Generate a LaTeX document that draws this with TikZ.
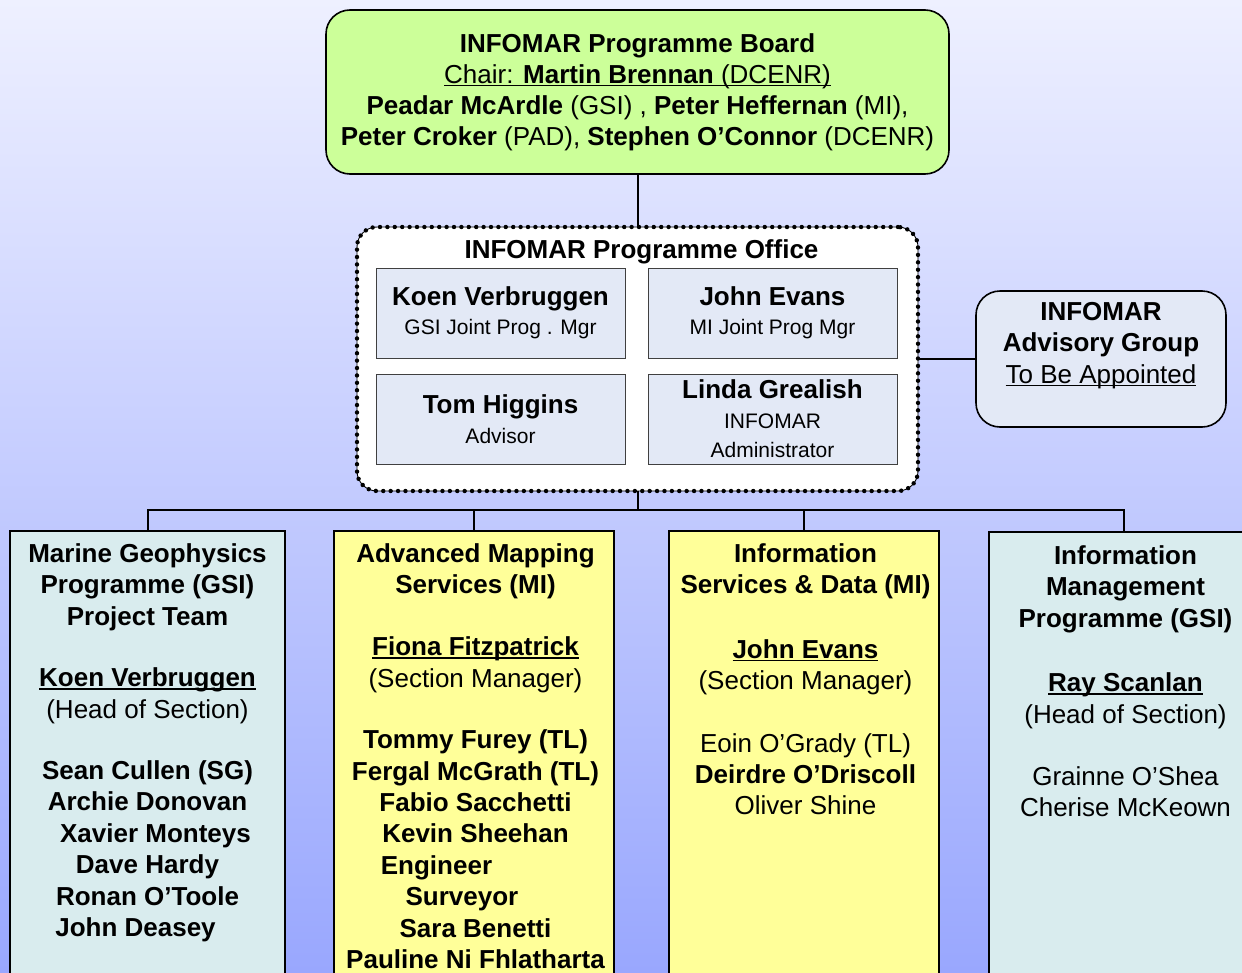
\documentclass[tikz,border=0pt]{standalone}
\usepackage{fontspec}
\setmainfont{Liberation Sans}
\usetikzlibrary{positioning}

\definecolor{bgtop}{HTML}{EEF0FF}
\definecolor{bgbot}{HTML}{99A7FE}
\definecolor{boardgreen}{HTML}{CCFF99}
\definecolor{cellblue}{HTML}{E3E9F6}
\definecolor{colcyan}{HTML}{D9ECEE}
\definecolor{colyellow}{HTML}{FFFF99}

% underline that cuts through the descenders
\newcommand{\ulname}[1]{\setbox0=\hbox{#1}\rlap{\rule[-3pt]{\wd0}{1.4pt}}\box0}
\newcommand{\cellname}[1]{{\fontsize{26}{31}\selectfont\bfseries #1}}

\begin{document}
\begin{tikzpicture}[
  x=1pt, y=-1pt,
  font=\fontsize{26}{31}\selectfont,
  link/.style={draw, line width=2pt},
  board/.style={draw, line width=1.6pt, rounded corners=24pt, fill=boardgreen,
    minimum width=623pt, minimum height=164pt, align=center, inner sep=0pt},
  office/.style={draw, fill=white, line width=0.9pt, rounded corners=20pt,
    minimum width=561pt, minimum height=264pt,
    postaction={draw, line width=4.4pt, dash pattern=on 0pt off 7.4pt, line cap=round}},
  cell/.style={draw=black!75, line width=1pt, fill=cellblue, minimum width=249pt,
    minimum height=90pt, align=center, inner sep=0pt, font=\fontsize{21}{29.5}\selectfont},
  advbox/.style={draw, line width=1.6pt, rounded corners=24pt, fill=cellblue,
    minimum width=250pt, minimum height=136pt},
  column/.style={draw, line width=1.6pt, minimum width=#1, minimum height=480pt,
    anchor=north, inner sep=0pt},
  boxtext/.style={align=center, inner sep=0pt, font=\fontsize{26}{31.4}\selectfont\bfseries}
]
\clip (0,0) rectangle (1242,972);
\shade[top color=bgtop, bottom color=bgbot] (0,0) rectangle (1242,972);

% board and programme office
\node[board] (board) at (637.5,92) {\textbf{INFOMAR Programme Board}\\
  \ulname{Chair: \textbf{Martin Brennan} (DCENR)}\\
  \textbf{Peadar McArdle} (GSI) , \textbf{Peter Heffernan} (MI),\\
  \textbf{Peter Croker} (PAD), \textbf{Stephen O'Connor} (DCENR)};
\node[office] (office) at (637.5,359) {};
\node[boxtext, below=12.5pt of office.north, xshift=4pt] (officetitle) {INFOMAR Programme Office};
\node[cell] (kv) at (500.5,313) {\cellname{Koen Verbruggen}\\GSI Joint Prog . Mgr};
\node[cell] (je) at (772.5,313) {\cellname{John Evans}\\MI Joint Prog Mgr};
\node[cell] (th) at (500.5,419) {\cellname{Tom Higgins}\\Advisor};
\node[cell] (lg) at (772.5,419) {\cellname{Linda Grealish}\\INFOMAR\\Administrator};

\node[advbox] (advisory) at (1101,359) {};
\node[boxtext, below=12pt of advisory.north] (advtext) {INFOMAR\\Advisory Group\\\textmd{\ulname{To Be Appointed}}};

% sections
\node[column=275pt, fill=colcyan] (mgp) at (147.5,530) {};
\node[column=280pt, fill=colyellow] (ams) at (474,530) {};
\node[column=270pt, fill=colyellow] (isd) at (804,530) {};
\node[column=270pt, fill=colcyan] (imp) at (1124,531) {};

\node[boxtext, below=13.5pt of mgp.north] (mgptext) {Marine Geophysics\\Programme (GSI)\\Project Team\\[30pt]
  \ulname{Koen Verbruggen}\\\textmd{(Head of Section)}\\[30pt]
  Sean Cullen (SG)\\Archie Donovan\\\kern16pt Xavier Monteys\\Dave Hardy\\Ronan O'Toole\\John Deasey\kern24pt};
\node[boxtext, below=13pt of ams.north, xshift=1.5pt] (amstext) {Advanced Mapping\\Services (MI)\\[31pt]
  \ulname{Fiona Fitzpatrick}\\\textmd{(Section Manager)}\\[30pt]
  Tommy Furey (TL)\\Fergal McGrath (TL)\\Fabio Sacchetti\\Kevin Sheehan\\Engineer\kern78pt\\Surveyor\kern27pt\\
  Sara Benetti\\Pauline Ni Fhlatharta};
\node[boxtext, below=13.5pt of isd.north, xshift=1.5pt] (isdtext) {Information\\Services \& Data (MI)\\[33pt]
  \ulname{John Evans}\\\textmd{(Section Manager)}\\[31pt]
  \textmd{Eoin O'Grady (TL)}\\Deirdre O'Driscoll\\\textmd{Oliver Shine}};
\node[boxtext, below=14.5pt of imp.north, xshift=1.5pt] (imptext) {Information\\Management\\Programme (GSI)\\[33pt]
  \ulname{Ray Scanlan}\\\textmd{(Head of Section)}\\[31pt]
  \textmd{Grainne O'Shea}\\\textmd{Cherise McKeown}};

% connectors
\coordinate (bus) at (637.5,510);
\draw[link] (board) -- (office);
\draw[link] (office) -- (advisory);
\draw[link] (office) -- (bus);
\foreach \sect in {mgp,ams,isd,imp}
  \draw[link] (bus) -| (\sect.north);
\end{tikzpicture}
\end{document}
